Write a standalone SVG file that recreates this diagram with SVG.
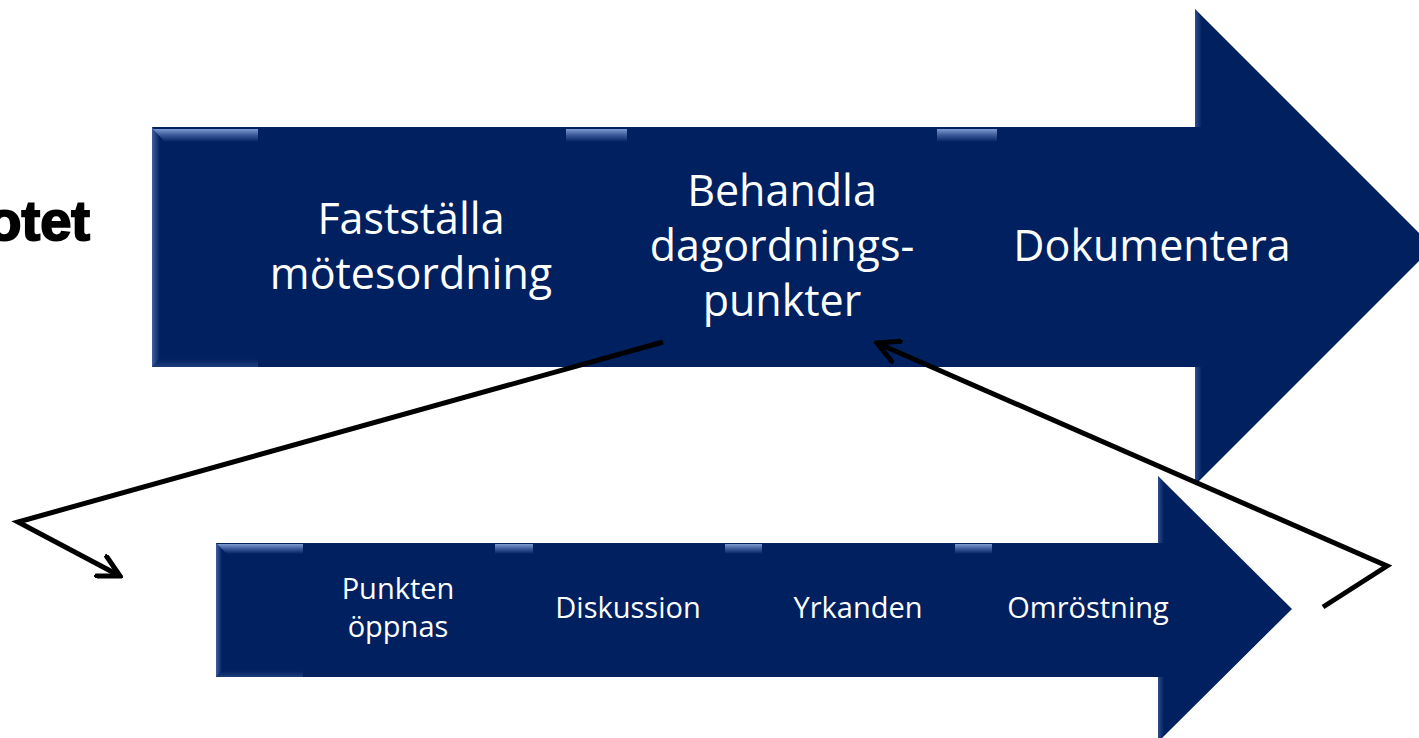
<svg xmlns="http://www.w3.org/2000/svg" width="1419" height="738" viewBox="0 0 1419 738">
  <style>
    .arrow { fill: #002060; }
    .big { font-family: "Open Sans", "Liberation Sans", sans-serif; font-size: 43px; fill: #ffffff; text-anchor: middle; }
    .small { font-family: "Open Sans", "Liberation Sans", sans-serif; font-size: 29px; fill: #ffffff; text-anchor: middle; }
    .conn { fill: none; stroke: #000000; stroke-width: 5; stroke-linejoin: miter; }
  </style>
  <defs>
    <linearGradient id="tab" x1="0" y1="0" x2="0" y2="1">
      <stop offset="0" stop-color="#7f9bd0"/>
      <stop offset="0.45" stop-color="#3d5c9c"/>
      <stop offset="1" stop-color="#002060"/>
    </linearGradient>
    <linearGradient id="leftEdge" x1="0" y1="0" x2="1" y2="0">
      <stop offset="0" stop-color="#3f5f9f"/>
      <stop offset="1" stop-color="#002060"/>
    </linearGradient>
    <linearGradient id="botEdge" x1="0" y1="1" x2="0" y2="0">
      <stop offset="0" stop-color="#1d3d7c"/>
      <stop offset="1" stop-color="#002060"/>
    </linearGradient>
    <marker id="head" viewBox="0 0 26 26" refX="23" refY="13" markerWidth="26" markerHeight="26" markerUnits="userSpaceOnUse" orient="auto">
      <path d="M2,2 L23,13 L2,24" fill="none" stroke="#000" stroke-width="5" stroke-linecap="round"/>
    </marker>
  </defs>

  <text x="90" y="240" text-anchor="end" font-family="Liberation Sans, Arial, sans-serif" font-weight="bold" font-size="56" fill="#000" stroke="#000" stroke-width="2">otet</text>

  <g id="big-arrow">
    <path class="arrow" d="M152,127 H1195 V9 L1433,247 L1195,485 V367 H152 Z"/>
    <polygon points="152,127 160,135 160,359 152,367" fill="url(#leftEdge)"/>
    <polygon points="1195,9 1202,19 1202,127 1195,127" fill="url(#leftEdge)" opacity="0.7"/>
    <polygon points="1195,367 1202,367 1202,475 1195,485" fill="url(#leftEdge)" opacity="0.7"/>
    <polygon points="152,367 160,359 258,359 258,367" fill="url(#botEdge)"/>
    <polygon points="153,129 258,129 258,142 165,142" fill="url(#tab)"/>
    <polygon points="566,129 627,129 627,142 566,142" fill="url(#tab)"/>
    <polygon points="937,129 997,129 997,142 937,142" fill="url(#tab)"/>
  </g>

  <g id="node-faststalla">
    <text class="big" x="411" y="234">Fastställa</text>
    <text class="big" x="411" y="289">mötesordning</text>
  </g>
  <g id="node-behandla">
    <text class="big" x="782" y="206">Behandla</text>
    <text class="big" x="782" y="261">dagordnings-</text>
    <text class="big" x="782" y="316">punkter</text>
  </g>
  <g id="node-dokumentera">
    <text class="big" x="1152" y="261">Dokumentera</text>
  </g>

  <g id="small-arrow">
    <path class="arrow" d="M216,543 H1158 V476 L1292,609 L1158,742 V677 H216 Z"/>
    <polygon points="216,543 222,549 222,671 216,677" fill="url(#leftEdge)"/>
    <polygon points="1158,476 1164,484 1164,543 1158,543" fill="url(#leftEdge)" opacity="0.7"/>
    <polygon points="1158,677 1164,677 1164,734 1158,742" fill="url(#leftEdge)" opacity="0.7"/>
    <polygon points="216,677 222,671 303,671 303,677" fill="url(#botEdge)"/>
    <polygon points="217,544 303,544 303,554 227,554" fill="url(#tab)"/>
    <polygon points="495,544 533,544 533,554 495,554" fill="url(#tab)"/>
    <polygon points="725,544 762,544 762,554 725,554" fill="url(#tab)"/>
    <polygon points="955,544 992,544 992,554 955,554" fill="url(#tab)"/>
  </g>

  <g id="node-punkten">
    <text class="small" x="398" y="599">Punkten</text>
    <text class="small" x="398" y="637">öppnas</text>
  </g>
  <g id="node-diskussion">
    <text class="small" x="628" y="618">Diskussion</text>
  </g>
  <g id="node-yrkanden">
    <text class="small" x="858" y="618">Yrkanden</text>
  </g>
  <g id="node-omrostning">
    <text class="small" x="1088" y="618">Omröstning</text>
  </g>

  <g id="connectors">
    <path class="conn" d="M663,342 L18,522 L120,576" marker-end="url(#head)"/>
    <path class="conn" d="M1323,607 L1387,566 L877,343" marker-end="url(#head)"/>
  </g>
</svg>
